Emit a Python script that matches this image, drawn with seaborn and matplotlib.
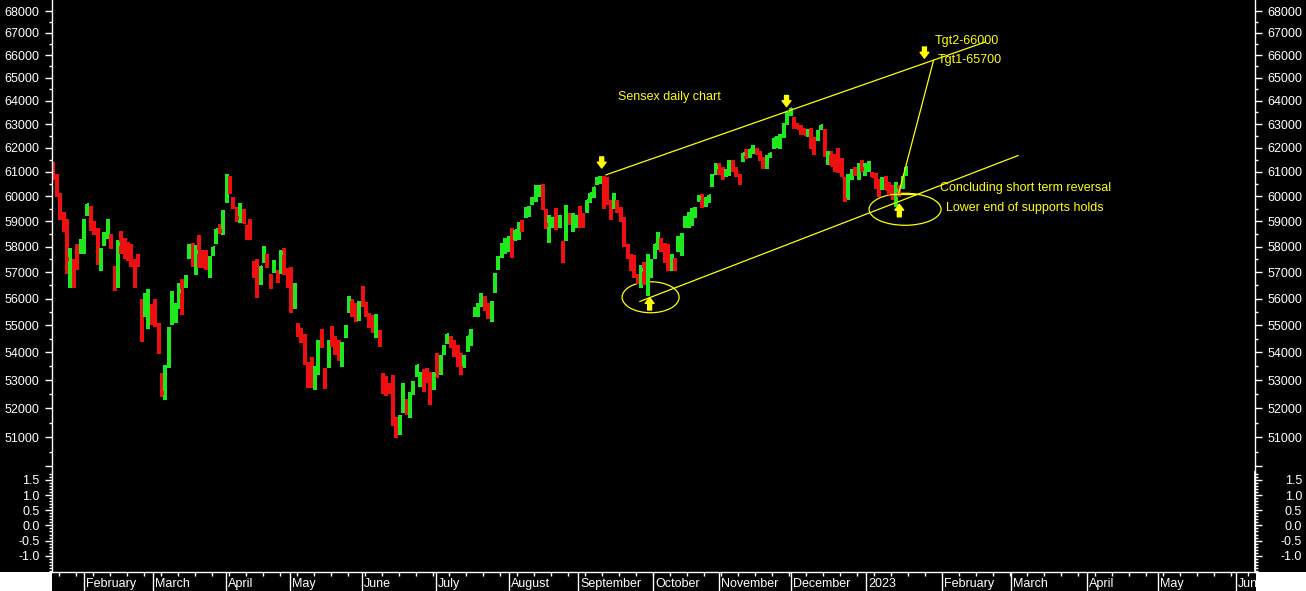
import numpy as np
import pandas as pd
import seaborn as sns
import matplotlib.pyplot as plt
from matplotlib.patches import Ellipse, Rectangle

# ---- daily bars ----
highs = [
    61400, 60920, 60120, 59360, 59100, 57950, 57500, 58100, 58280, 59100,
    59680, 59600, 59000, 58750, 57960, 58560, 59100, 58500, 57250, 58250,
    58600, 58350, 58200, 58100, 57500, 57700, 56000, 56200, 56380, 55800,
    56000, 55080, 53250, 53550, 54930, 56300, 55850, 56600, 56750, 56900,
    58100, 58150, 58050, 58450, 57850, 57850, 57650, 58000, 58700, 58900,
    59450, 60900, 60850, 59960, 59560, 59720, 59480, 58840, 59080, 57420,
    57500, 57250, 58040, 57730, 56920, 57460, 57100, 57850, 57960, 57150,
    57200, 56580, 55070, 54890, 54670, 53670, 53850, 53520, 54460, 54850,
    53450, 54460, 54960, 54600, 54450, 54380, 55000, 56100, 55970, 55820,
    55890, 56480, 55860, 55450, 55370, 55410, 54820, 53270, 53160, 52900,
    53200, 51700, 51770, 52900, 52320, 52560, 52960, 53550, 53300, 53400,
    53450, 53300, 53300, 53970, 53890, 54270, 54670, 54600, 54450, 54270,
    53970, 53890, 54600, 54860, 55670, 55820, 56230, 56080, 55820, 55890,
    56960, 57650, 58150, 58350, 58430, 58750, 58670, 58960, 59040, 59560,
    59600, 59960, 60480, 60480, 60520, 59480, 59240, 59160, 59520, 59240,
    58230, 59640, 59320, 59320, 59240, 59600, 59320, 59850, 60120, 60400,
    60800, 60850, 60850, 60800, 59850, 60120, 59850, 59560, 59160, 58120,
    57730, 57690, 56920, 57300, 57400, 57700, 57500, 58120, 58560, 58320,
    58160, 58120, 57730, 57570, 58430, 58520, 59200, 59360, 59520, 59560,
    60040, 60080, 59960, 60040, 60900, 61350, 61350, 61200, 61100, 61480,
    61480, 61200, 60920, 61800, 61950, 61950, 62100, 62000, 61880, 61600,
    61700, 61800, 62400, 62500, 62600, 63050, 63500, 63700, 63300, 63050,
    62950, 62850, 62800, 62850, 62450, 62750, 62950, 62800, 61880, 61880,
    61760, 62000, 61560, 60770, 60900, 61100, 61200, 61350, 61480, 61350,
    61440, 61000, 60950, 60700, 60770, 60850, 60600, 60480, 60600, 60450,
    60850, 61200,
]
lows = [
    60680, 59980, 59040, 58560, 56950, 56400, 56400, 57100, 57700, 57700,
    59200, 58600, 58450, 57300, 57040, 58040, 58300, 57900, 56300, 56420,
    57700, 57500, 57450, 57200, 56400, 57200, 54400, 55300, 54860, 55000,
    54930, 53930, 52400, 52300, 53450, 55000, 55070, 55600, 55400, 56400,
    57500, 57200, 56900, 57150, 57150, 57100, 56800, 57650, 58100, 58500,
    58450, 59750, 60080, 59480, 58960, 58920, 58880, 58250, 58250, 56800,
    56030, 56500, 57350, 57150, 56380, 56960, 56580, 56920, 56880, 56420,
    55450, 55600, 54550, 54350, 53550, 52730, 52730, 52650, 53180, 54180,
    52700, 53450, 54200, 53900, 53700, 53480, 54530, 55470, 55300, 55120,
    55150, 55670, 55300, 54890, 54710, 54530, 54200, 52520, 52450, 52520,
    51400, 50970, 51070, 51830, 51770, 51650, 52480, 53100, 52750, 52560,
    52900, 52100, 52650, 53070, 53170, 53900, 54300, 54150, 53820, 53480,
    53200, 53420, 54030, 54230, 55300, 55300, 55670, 55520, 55220, 55120,
    56230, 57100, 57570, 57730, 57770, 57570, 58220, 58250, 58560, 59120,
    59160, 59640, 59770, 59960, 59440, 58700, 58150, 58750, 58640, 58750,
    57350, 58230, 58840, 58560, 58750, 58720, 58750, 59320, 59730, 59920,
    60480, 60520, 59480, 59640, 59050, 59480, 59320, 58960, 57970, 57500,
    57060, 56800, 56550, 56400, 56500, 56100, 56800, 57500, 57850, 57770,
    57380, 57060, 57060, 57060, 57770, 57650, 58720, 58750, 58800, 59120,
    59760, 59520, 59560, 59730, 60370, 60880, 60880, 60650, 60770, 60850,
    61000, 60770, 60480, 61400, 61520, 61560, 61760, 61680, 61440, 61100,
    61100, 61560, 61950, 62000, 61950, 62400, 62950, 63350, 62800, 62800,
    62550, 62550, 62450, 61950, 61700, 62300, 62750, 61600, 61300, 61240,
    61000, 60950, 60770, 59770, 59850, 60650, 60850, 60650, 61000, 60850,
    61000, 60770, 60300, 59960, 60250, 60250, 60040, 59850, 59560, 59960,
    60300, 60850,
]
closes = [
    60900, 60300, 59500, 58700, 57500, 57850, 57250, 57250, 58000, 58750,
    59650, 59200, 58650, 57600, 57850, 58300, 59000, 58000, 56760, 58100,
    57900, 57700, 57600, 57300, 56500, 57300, 54550, 55800, 56100, 55200,
    55200, 54000, 52550, 53300, 54700, 55600, 55600, 56300, 55600, 56800,
    58000, 57300, 57800, 57550, 57300, 57300, 57550, 57950, 58650, 58600,
    59300, 60600, 60300, 59600, 59150, 59500, 59000, 58400, 58350, 57000,
    56600, 57200, 57950, 57350, 56550, 57400, 56700, 57750, 57100, 56600,
    55600, 55800, 54700, 54700, 53650, 52800, 53300, 53400, 54300, 54300,
    52800, 53500, 54400, 54050, 53850, 54250, 54950, 56000, 55450, 55400,
    55800, 55900, 55600, 55050, 54800, 55300, 54350, 52600, 52500, 52700,
    51500, 51350, 51600, 52700, 52000, 52450, 52900, 53500, 53100, 52900,
    53200, 52400, 53200, 53250, 53850, 54200, 54650, 54350, 54000, 53600,
    53450, 53850, 54550, 54800, 55550, 55750, 56150, 55700, 55350, 55800,
    56900, 57550, 58050, 58200, 58350, 58200, 58600, 58900, 58700, 59500,
    59300, 59900, 60400, 60300, 59600, 58850, 59000, 59100, 58800, 59150,
    57800, 59500, 59000, 59100, 59150, 58900, 58850, 59800, 60100, 60350,
    60700, 60600, 59600, 59800, 59200, 60000, 59450, 59150, 58100, 57650,
    57200, 56950, 56650, 57100, 56700, 57400, 57400, 58050, 58500, 57900,
    57550, 57250, 57650, 57200, 58350, 58400, 59150, 59300, 59450, 59500,
    59950, 59650, 59900, 60000, 60800, 61200, 60950, 60800, 61050, 61400,
    61100, 60900, 60600, 61750, 61650, 61900, 62000, 61800, 61600, 61300,
    61600, 61750, 62350, 62300, 62500, 62900, 63400, 63650, 62900, 62850,
    62650, 62600, 62700, 62100, 61800, 62650, 62900, 61700, 61800, 61300,
    61100, 61050, 60850, 59850, 60600, 61000, 60900, 61150, 61100, 61250,
    61350, 60850, 60400, 60100, 60650, 60300, 60150, 59950, 60250, 60100,
    60800, 61150,
]
# bar colour as seen on the chart: G = up, R = down
bar_dir = ("RRRRRGRRGG" "GRRRGGGRRG" "RRRRRRRGGR" "RRRGGGGGRG" "GRGRRRGGGR"
           "GGRRRGRRRR" "RGGRRGRGRR" "RGRRRRRGGR" "RGRRRGGGRR" "GRRRRGRRRR"
           "RRGGRGGGGR" "RRGRGGGRRR" "RGGGGGGRRG" "GGGGGRGGRG" "GGGGRRGGRG"
           "RGRGGRRGGG" "GGRRRGRRRR" "RRRGRGGGGR" "RRGRGGGGGG" "GRGGGGRRGG"
           "RRRGRGGRRR" "GGGGGGGGRR" "RRGRRGGRGR" "RRRRGGRGRG" "GRRRGRRRGR"
           "GG")

# ---- x axis months (bar index where each month starts) ----
month_labels = ["February", "March", "April", "May", "June", "July", "August",
                "September", "October", "November", "December", "2023",
                "February", "March", "April", "May", "Jun"]
month_pos = [9.0, 29.4, 50.8, 69.6, 90.8, 112.6, 134.0, 154.4, 176.5, 195.9,
             217.2, 239.2, 261.6, 282.0, 304.3, 325.1, 348.1]

# ---- analyst drawings: (bar index, price) ----
upper_channel_x = [162.6, 274.3]
upper_channel_y = [60875, 66590]
lower_channel_x = [172.6, 284.0]
lower_channel_y = [55890, 61680]
target_x = [248.8, 259.1]
target_y = [60110, 65780]
base_x = [246.4, 254.6]
base_y = [60080, 60080]
circle_x = [175.8, 250.7]
circle_y = [56050, 59480]
down_arrow_x = [161.4, 215.8, 256.4]
down_arrow_y = [61160, 63750, 65870]
up_arrow_x = [175.5, 249.0]
up_arrow_y = [56040, 59680]
notes = ["Sensex daily chart", "Tgt2-66000", "Tgt1-65700",
         "Concluding short term reversal", "Lower end of supports holds"]
note_x = [166.1, 259.3, 260.2, 261.1, 262.6]
note_y = [64180, 66640, 65780, 60330, 59520]

GREEN = "#1ee81e"
RED = "#ee1010"
YELLOW = "#ffff00"
FG = "white"

sns.set_theme(style="dark", rc={"axes.facecolor": "black", "figure.facecolor": "black",
                                "axes.edgecolor": FG, "axes.grid": False,
                                "text.color": FG, "xtick.color": FG, "ytick.color": FG})
plt.rcParams["font.family"] = ["Liberation Sans", "DejaVu Sans"]

W, H = 1306, 591
fig = plt.figure(figsize=(W / 100, H / 100), dpi=100)
ax = fig.add_axes([52 / W, (H - 471) / H, 1203 / W, 471 / H])
ax2 = fig.add_axes([52 / W, (H - 572) / H, 1203 / W, 100 / H], sharex=ax)

df = pd.DataFrame({"high": highs, "low": lows, "close": closes, "dir": list(bar_dir)})
df["idx"] = np.arange(len(df))
df["color"] = df["dir"].map({"G": GREEN, "R": RED})

# OHLC-style bars: high-low stroke plus a close tick on the right
ax.vlines(df["idx"], df["low"], df["high"], colors=df["color"], lw=1.5, antialiased=False)
ax.hlines(df["close"], df["idx"], df["idx"] + 0.5, colors=df["color"], lw=1.5, antialiased=False)

ax.set_yscale("log")
ax.set_xlim(-0.4, 353.7)
ax.set_ylim(49846, 68507)
major = np.arange(50000, 68001, 1000)
ax.set_yticks(major, ["" if v == 50000 else str(v) for v in major])
ax.set_yticks(np.arange(50500, 68000, 1000), minor=True)
ax.yaxis.set_minor_formatter(plt.NullFormatter())
ax.tick_params(axis="y", which="both", left=True, right=True, labelleft=True, labelright=True,
               direction="out", color=FG, labelcolor=FG, labelsize=9, pad=4, width=1)
ax.tick_params(axis="y", which="major", length=5)
ax.tick_params(axis="y", which="minor", length=2.5)
ax.tick_params(axis="x", which="both", bottom=False, labelbottom=False)
for s in ["top", "bottom"]:
    ax.spines[s].set_visible(False)
for s in ["left", "right"]:
    ax.spines[s].set_color(FG)
    ax.spines[s].set_linewidth(1)

# drawings
ax.plot(upper_channel_x, upper_channel_y, color=YELLOW, lw=0.9)
ax.plot(lower_channel_x, lower_channel_y, color=YELLOW, lw=0.9)
ax.plot(target_x, target_y, color=YELLOW, lw=0.9)
ax.plot(base_x, base_y, color=YELLOW, lw=0.9)

to_axes = ax.transData + ax.transAxes.inverted()
for cx, cy, w, h in zip(circle_x, circle_y, [57, 72], [31, 32]):
    fx, fy = to_axes.transform((cx, cy))
    ax.add_patch(Ellipse((fx, fy), w / ax.bbox.width, h / ax.bbox.height,
                         transform=ax.transAxes, fill=False, ec=YELLOW, lw=0.9))

arrow = dict(arrowstyle="simple,head_length=0.6,head_width=0.9,tail_width=0.4",
             color=YELLOW, shrinkA=0, shrinkB=0, mutation_scale=7)
for x, y in zip(down_arrow_x, down_arrow_y):
    ax.annotate("", xy=(x, y), xytext=(0, 8), textcoords="offset points", arrowprops=arrow)
for x, y in zip(up_arrow_x, up_arrow_y):
    ax.annotate("", xy=(x, y), xytext=(0, -9), textcoords="offset points", arrowprops=arrow)

for t, x, y in zip(notes, note_x, note_y):
    ax.text(x, y, t, color=YELLOW, fontsize=9, ha="left", va="center")

# lower (empty indicator) panel
ax2.set_ylim(-1.538, 1.764)
ax2.set_yticks([-1.0, -0.5, 0.0, 0.5, 1.0, 1.5], ["-1.0", "-0.5", "0.0", "0.5", "1.0", "1.5"])
ax2.set_yticks(np.arange(-1.5, 1.75, 0.1), minor=True)
ax2.tick_params(axis="y", which="both", left=True, direction="out", color=FG,
                labelcolor=FG, labelsize=9, pad=4, width=1)
ax2.tick_params(axis="y", which="major", length=5)
ax2.tick_params(axis="y", which="minor", length=2.5)

ax2.set_xticks(month_pos, [""] * len(month_pos))
ax2.set_xticks(np.arange(1.6, 354, 5), minor=True)
ax2.tick_params(axis="x", which="both", bottom=True, direction="out", color=FG, width=1)
ax2.tick_params(axis="x", which="major", length=14)
ax2.tick_params(axis="x", which="minor", length=3)
for name, pos in zip(month_labels, month_pos):
    ax2.annotate(name, xy=(pos, 0), xycoords=("data", "axes fraction"), xytext=(1.5, -8.8),
                 textcoords="offset points", ha="left", va="center", fontsize=9, color=FG)
ax2.spines["top"].set_visible(False)
for s in ["left", "right", "bottom"]:
    ax2.spines[s].set_color(FG)
    ax2.spines[s].set_linewidth(1)

ax2r = ax2.twinx()
ax2r.set_ylim(ax2.get_ylim())
ax2r.set_yticks([-1.0, -0.5, 0.0, 0.5, 1.0, 1.5], ["-1.0", "-0.5", "0.0", "0.5", "1.0", "1.5"], ha="right")
ax2r.set_yticks(np.arange(-1.5, 1.75, 0.1), minor=True)
ax2r.tick_params(axis="y", which="both", right=True, direction="out", color=FG,
                 labelcolor=FG, labelsize=9, pad=29, width=1)
ax2r.tick_params(axis="y", which="major", length=5)
ax2r.tick_params(axis="y", which="minor", length=2.5)
for s in ["top", "left", "bottom"]:
    ax2r.spines[s].set_visible(False)
ax2r.spines["right"].set_color(FG)

# white corners below the plotting area
fig.add_artist(Rectangle((0, 0), 52 / W, 19 / H, transform=fig.transFigure,
                         facecolor="white", edgecolor="none"))
fig.add_artist(Rectangle((1256 / W, 0), (W - 1256) / W, 19 / H, transform=fig.transFigure,
                         facecolor="white", edgecolor="none"))

fig.savefig("out.png", dpi=100, facecolor=fig.get_facecolor())
